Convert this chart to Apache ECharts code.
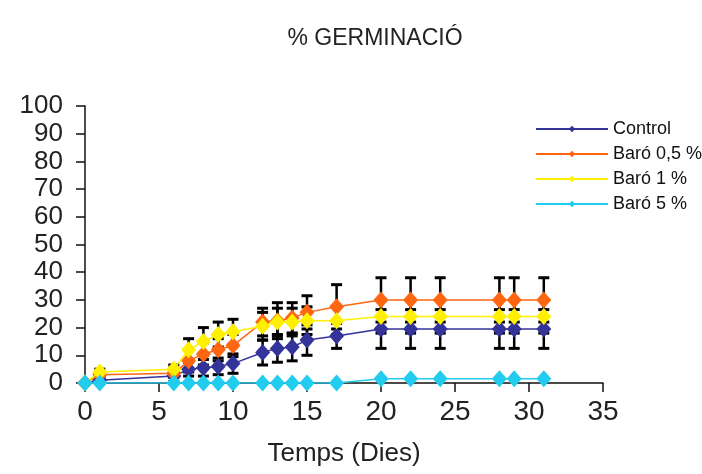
<!DOCTYPE html>
<html>
<head>
<meta charset="utf-8">
<script src="https://cdn.jsdelivr.net/npm/echarts@6/dist/echarts.min.js"></script>
<style>html,body{margin:0;padding:0;background:#fff;}#c{width:702px;height:474px;}</style>
</head>
<body>
<div id="c"></div>
<script>
const days = [0, 1, 6, 7, 8, 9, 10, 12, 13, 14, 15, 17, 20, 22, 24, 28, 29, 31];
const seriesNames = ['Control', 'Baró 0,5 %', 'Baró 1 %', 'Baró 5 %'];
const control = [0, 1, 2.5, 5, 5.5, 6, 7, 11, 12.5, 13, 15.5, 17, 19.5, 19.5, 19.5, 19.5, 19.5, 19.5];
const controlErr = [0, 1, 2, 2.5, 3, 3, 3.5, 4.5, 5, 5, 5.5, 4.5, 7, 7, 7, 7, 7, 7];
const boro05 = [0, 3, 3.5, 8, 10.5, 12, 13.5, 22, 22.5, 23.5, 25.5, 27.5, 30, 30, 30, 30, 30, 30];
const boro05Err = [0, 1, 1.5, 4, 4, 4, 4, 5, 6.5, 5.5, 6, 8, 8, 8, 8, 8, 8, 8];
const boro1 = [0, 4, 5, 12, 15, 17.5, 18.5, 20.5, 22, 22, 22.5, 22.5, 24, 24, 24, 24, 24, 24];
const boro1Err = [0, 1, 1.5, 4, 5, 4.5, 4.5, 5, 5, 5, 5, 5, 6, 6, 6, 6, 6, 6];
const boro5 = [0, 0, 0, 0, 0, 0, 0, 0, 0, 0, 0, 0, 1.5, 1.5, 1.5, 1.5, 1.5, 1.5];
const boro5Err = [0, 0, 0, 0, 0, 0, 0, 0, 0, 0, 0, 0, 0, 0, 0, 0, 0, 0];
const xTicks = [0, 5, 10, 15, 20, 25, 30, 35];
const yTicks = [0, 10, 20, 30, 40, 50, 60, 70, 80, 90, 100];

const colors = ['#333399', '#FF6611', '#FFF000', '#22CCEE'];
const vals = [control, boro05, boro1, boro5];
const errs = [controlErr, boro05Err, boro1Err, boro5Err];
const FONT = 'Liberation Sans, Arial, sans-serif';

function errRender(params, api) {
  const e = api.value(2);
  if (!e) return null;
  const x = api.value(0), y = api.value(1);
  const lo = api.coord([x, y - e]);
  const hi = api.coord([x, y + e]);
  const w = 5.5;
  return {type: 'group', children: [
    {type: 'line', shape: {x1: lo[0], y1: lo[1], x2: hi[0], y2: hi[1]}, style: {stroke: '#000', lineWidth: 2.5}},
    {type: 'line', shape: {x1: hi[0] - w, y1: hi[1], x2: hi[0] + w, y2: hi[1]}, style: {stroke: '#000', lineWidth: 3}},
    {type: 'line', shape: {x1: lo[0] - w, y1: lo[1], x2: lo[0] + w, y2: lo[1]}, style: {stroke: '#000', lineWidth: 3}}
  ]};
}

const series = [];
for (let s = 0; s < 4; s++) {
  series.push({
    type: 'custom', name: seriesNames[s] + ' err', z: 1,
    renderItem: errRender,
    encode: {x: 0, y: 1},
    data: days.map((d, i) => [d, vals[s][i], errs[s][i]]),
    silent: true
  });
}
for (let s = 0; s < 4; s++) {
  series.push({
    type: 'line', name: seriesNames[s], z: 3 + s,
    data: days.map((d, i) => [d, vals[s][i]]),
    symbol: 'diamond', symbolSize: [15, 17],
    lineStyle: {color: colors[s], width: 1.5},
    itemStyle: {color: colors[s]},
    animation: false
  });
}

const chart = echarts.init(document.getElementById('c'), null, {renderer: 'canvas'});
chart.setOption({
  animation: false,
  backgroundColor: '#fff',
  title: {
    text: '% GERMINACIÓ', left: 370, textAlign: 'center', top: 22,
    textStyle: {fontFamily: FONT, fontSize: 23, fontWeight: 'normal', color: '#222'}
  },
  legend: {
    data: seriesNames,
    orient: 'vertical', left: 530, top: 115,
    itemWidth: 72, itemHeight: 8, itemGap: 7,
    textStyle: {fontFamily: FONT, fontSize: 18, color: '#111', lineHeight: 18}
  },
  grid: {left: 85, right: 99, top: 106, bottom: 91},
  xAxis: {
    type: 'value', min: 0, max: 35, interval: 5,
    name: 'Temps (Dies)', nameLocation: 'middle', nameGap: 58,
    nameTextStyle: {fontFamily: FONT, fontSize: 26, color: '#222'},
    axisLine: {lineStyle: {color: '#111', width: 1.5}},
    axisTick: {show: true, inside: false, length: 9, lineStyle: {color: '#111', width: 1.5}},
    axisLabel: {margin: 15, fontFamily: FONT, fontSize: 28, color: '#222',
      showMinLabel: true, showMaxLabel: true,
      formatter: v => xTicks.includes(v) ? String(v) : ''},
    splitLine: {show: false}
  },
  yAxis: {
    type: 'value', min: 0, max: 100, interval: 10,
    axisLine: {show: true, lineStyle: {color: '#111', width: 1.5}},
    axisTick: {show: true, inside: false, length: 9, lineStyle: {color: '#111', width: 1.5}},
    axisLabel: {margin: 22, fontFamily: FONT, fontSize: 26, color: '#222',
      showMinLabel: true, showMaxLabel: true,
      formatter: v => yTicks.includes(v) ? String(v) : ''},
    splitLine: {show: false}
  },
  series: series
});
</script>
</body>
</html>
